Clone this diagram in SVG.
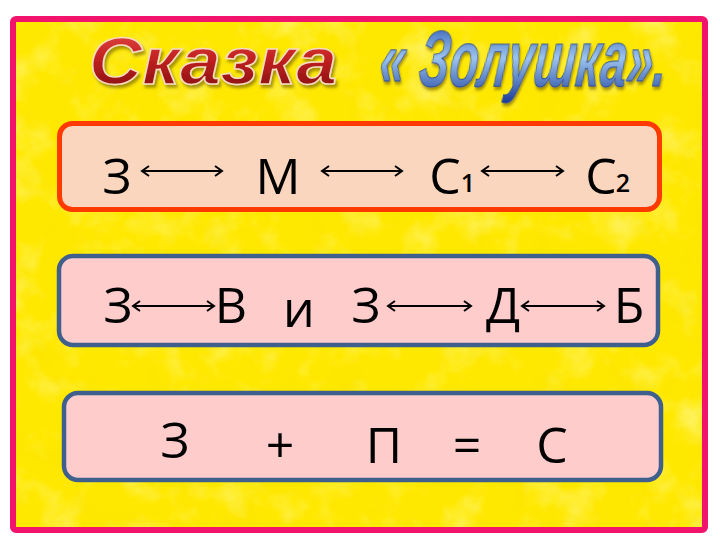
<svg xmlns="http://www.w3.org/2000/svg" width="720" height="540" viewBox="0 0 720 540">
<defs>
<style>
.t{font-family:"Open Sans","Noto Sans","Liberation Sans",sans-serif;font-size:50px;fill:#000;text-anchor:middle}
.sub{font-family:"Open Sans","Noto Sans","Liberation Sans",sans-serif;font-size:25px;font-weight:600;fill:#000;text-anchor:middle}
.box1{fill:#fad6be;stroke:#ff3a00;stroke-width:5}
.box2{fill:#ffcccc;stroke:#3f5f8c;stroke-width:4.5}
.arr{stroke:#000;stroke-width:2;fill:none;marker-start:url(#ah);marker-end:url(#ah)}
</style>
<marker id="ah" viewBox="-10 -6 12 12" refX="0" refY="0" markerWidth="12" markerHeight="12" markerUnits="userSpaceOnUse" orient="auto-start-reverse">
<path d="M-7,-5 L0,0 L-7,5" fill="none" stroke="#000" stroke-width="2" stroke-linejoin="miter"/>
</marker>
<linearGradient id="red" x1="0" y1="0" x2="0" y2="1">
<stop offset="0" stop-color="#e8504a"/>
<stop offset="0.45" stop-color="#c42222"/>
<stop offset="1" stop-color="#7a0c0c"/>
</linearGradient>
<linearGradient id="blue" x1="0" y1="0" x2="0" y2="1">
<stop offset="0" stop-color="#1a48a8"/>
<stop offset="0.5" stop-color="#9cc4ee"/>
<stop offset="1" stop-color="#1a3c98"/>
</linearGradient>
<filter id="sh" x="-20%" y="-30%" width="140%" height="170%">
<feDropShadow dx="2" dy="3" stdDeviation="1.5" flood-color="#6b5a00" flood-opacity="0.6"/>
</filter>
<filter id="texL" x="0" y="0" width="100%" height="100%">
<feTurbulence type="fractalNoise" baseFrequency="0.025" numOctaves="4" seed="7"/>
<feColorMatrix type="matrix" values="0 0 0 0 1  0 0 0 0 0.96  0 0 0 0 0.45  2.4 0 0 0 -1.15"/>
</filter>
<filter id="texD" x="0" y="0" width="100%" height="100%">
<feTurbulence type="fractalNoise" baseFrequency="0.03" numOctaves="3" seed="21"/>
<feColorMatrix type="matrix" values="0 0 0 0 0.93  0 0 0 0 0.75  0 0 0 0 0  0 2.4 0 0 -1.15"/>
</filter>
</defs>
<rect x="0" y="0" width="720" height="540" fill="#ffffff"/>
<g id="background">
<rect x="13" y="19" width="692" height="511" fill="#ffe800"/>
<rect x="13" y="19" width="692" height="511" filter="url(#texL)" opacity="0.5"/>
<rect x="13" y="19" width="692" height="511" filter="url(#texD)" opacity="0.35"/>
<rect x="13" y="19" width="692" height="511" rx="3" fill="none" stroke="#f2146c" stroke-width="6"/>
</g>
<g id="title">
<text x="213" y="84" text-anchor="middle" font-family="'Liberation Sans',Arial,sans-serif" font-weight="bold" font-style="italic" font-size="66" textLength="248" lengthAdjust="spacingAndGlyphs" fill="url(#red)" stroke="#f6dcc0" stroke-width="1.5" filter="url(#sh)">Сказка</text>
<g transform="translate(521,86) skewX(-6) scale(0.6,1)">
<text x="0" y="0" text-anchor="middle" font-family="'Liberation Sans',Arial,sans-serif" font-weight="bold" font-style="italic" font-size="80" textLength="478" lengthAdjust="spacingAndGlyphs" fill="url(#blue)" stroke="#2a4f9c" stroke-width="1" filter="url(#sh)">« Золушка».</text>
</g>
</g>
<g id="node-row1">
<rect class="box1" x="59.5" y="123.5" width="600" height="86" rx="13"/>
<text class="t" x="117" y="194">З</text>
<text class="t" x="278" y="194">М</text>
<text class="t" x="445" y="194">С</text>
<text class="sub" x="468" y="192">1</text>
<text class="t" x="601" y="194">С</text>
<text class="sub" x="623" y="192">2</text>
</g>
<g id="node-row2">
<rect class="box2" x="59" y="256" width="599" height="89" rx="14"/>
<text class="t" x="118" y="323">З</text>
<text class="t" x="231" y="323">В</text>
<text class="t" x="299" y="327">и</text>
<text class="t" x="366" y="323">З</text>
<text class="t" x="503" y="323">Д</text>
<text class="t" x="629" y="323">Б</text>
</g>
<g id="node-row3">
<rect class="box2" x="64" y="393" width="597" height="87" rx="14"/>
<text class="t" x="175" y="458">З</text>
<text class="t" x="280" y="463">+</text>
<text class="t" x="384" y="463">П</text>
<text class="t" x="467" y="463">=</text>
<text class="t" x="552" y="463">С</text>
</g>
<g id="connectors">
<line class="arr" x1="142" y1="171" x2="222" y2="171"/>
<line class="arr" x1="322" y1="171" x2="402" y2="171"/>
<line class="arr" x1="482" y1="171" x2="563" y2="171"/>
<line class="arr" x1="133" y1="306" x2="214" y2="306"/>
<line class="arr" x1="388" y1="306" x2="471" y2="306"/>
<line class="arr" x1="522" y1="306" x2="604" y2="306"/>
</g>
</svg>
